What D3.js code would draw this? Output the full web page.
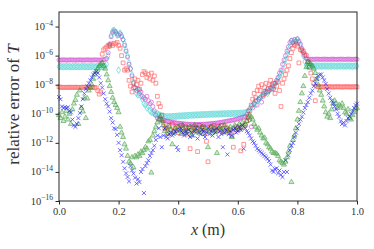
<!DOCTYPE html>
<html><head><meta charset="utf-8">
<script src="https://cdn.jsdelivr.net/npm/d3@7"></script>
<style>body{margin:0;background:#fff}svg{display:block}text{font-family:"Liberation Serif","DejaVu Serif",serif}</style>
</head><body>
<svg id="c" width="374" height="249"></svg>
<script>
// sample positions x (m), step 0.005 from 0 to 1
const xPositions = d3.range(201).map(i => +(i * 0.005).toFixed(3));

// log10 of relative error
const magentaExp = [
-6.30,-6.31,-6.30,-6.29,-6.30,-6.31,-6.30,-6.30,-6.29,-6.30,
-6.30,-6.31,-6.30,-6.30,-6.29,-6.30,-6.31,-6.30,-6.30,-6.29,
-6.30,-6.30,-6.31,-6.30,-6.29,-6.30,-6.30,-6.31,-6.30,-6.29,
-6.28,-6.25,-6.2,-5.8,-5.2,-4.7,-4.4,-4.3,-4.35,-4.5,
-4.6,-4.5,-4.7,-4.9,-5.3,-5.7,-6.1,-6.6,-6.9,-7.4,
-7.9,-8.2,-8.4,-8.3,-8.6,-8.5,-8.8,-8.9,-9.0,-8.8,
-9.1,-9.3,-9.2,-9.5,-9.8,-10.1,-10.3,-10.35,-10.38,-10.42,
-10.45,-10.47,-10.5,-10.52,-10.55,-10.57,-10.59,-10.6,-10.62,-10.64,
-10.65,-10.66,-10.67,-10.68,-10.7,-10.71,-10.72,-10.72,-10.73,-10.73,
-10.74,-10.74,-10.74,-10.74,-10.73,-10.73,-10.73,-10.72,-10.72,-10.71,
-10.7,-10.69,-10.68,-10.67,-10.66,-10.65,-10.64,-10.62,-10.61,-10.59,
-10.57,-10.55,-10.53,-10.51,-10.49,-10.47,-10.45,-10.43,-10.41,-10.38,
-10.35,-10.32,-10.29,-10.25,-10.22,-10.18,-10.05,-9.8,-10.4,-10.9,
-9.6,-9.3,-9.1,-9.4,-9.0,-8.9,-9.2,-8.8,-8.6,-8.5,
-8.3,-8.4,-8.2,-8.0,-8.3,-7.9,-7.7,-7.5,-7.2,-7.0,
-6.6,-6.3,-6.0,-5.7,-5.4,-5.1,-4.95,-5.1,-4.9,-5.0,
-4.85,-5.0,-5.2,-5.5,-5.8,-6.0,-6.2,-6.24,-6.25,-6.25,
-6.25,-6.26,-6.25,-6.24,-6.25,-6.25,-6.26,-6.25,-6.24,-6.25,
-6.25,-6.26,-6.25,-6.25,-6.24,-6.25,-6.26,-6.25,-6.25,-6.24,
-6.25,-6.25,-6.26,-6.25,-6.24,-6.25,-6.25,-6.26,-6.25,-6.24,
-6.25];

const cyanExp = [
-6.76,-6.75,-6.76,-6.77,-6.76,-6.75,-6.76,-6.76,-6.77,-6.76,
-6.76,-6.75,-6.76,-6.76,-6.77,-6.76,-6.75,-6.76,-6.76,-6.77,
-6.76,-6.76,-6.75,-6.76,-6.77,-6.76,-6.76,-6.75,-6.76,-6.76,
-6.74,-6.72,-6.6,-6.0,-5.3,-4.6,-4.3,-4.25,-4.4,-4.6,
-7.0,-4.45,-4.6,-4.9,-5.2,-5.6,-6.0,-6.5,-6.9,-7.3,
-7.8,-8.2,-8.6,-8.7,-8.4,-8.8,-9.0,-9.3,-9.4,-9.6,
-9.5,-9.8,-9.9,-9.9,-10.0,-10.0,-10.0,-10.05,-10.1,-10.15,
-10.17,-10.19,-10.2,-10.2,-10.2,-10.2,-10.19,-10.18,-10.18,-10.17,
-10.16,-10.15,-10.15,-10.14,-10.13,-10.13,-10.12,-10.11,-10.1,-10.1,
-10.09,-10.09,-10.08,-10.08,-10.07,-10.07,-10.06,-10.06,-10.05,-10.05,
-10.04,-10.04,-10.03,-10.03,-10.03,-10.02,-10.02,-10.02,-10.01,-10.01,
-10.0,-10.0,-10.0,-9.99,-9.99,-9.99,-9.98,-9.98,-9.98,-9.97,
-9.97,-9.97,-9.96,-9.96,-9.95,-9.93,-9.9,-9.8,-9.65,-9.5,
-9.4,-9.3,-9.35,-9.1,-9.0,-8.9,-8.8,-8.6,-8.5,-8.55,
-8.6,-8.4,-8.3,-8.2,-8.1,-8.0,-7.8,-7.6,-7.4,-7.2,
-7.0,-6.6,-6.3,-5.9,-5.6,-5.3,-5.0,-5.1,-4.95,-5.0,
-4.9,-5.1,-5.3,-5.6,-6.0,-6.4,-6.65,-6.72,-6.72,-6.72,
-6.72,-6.73,-6.72,-6.71,-6.72,-6.72,-6.73,-6.72,-6.71,-6.72,
-6.72,-6.73,-6.72,-6.72,-6.71,-6.72,-6.73,-6.72,-6.72,-6.71,
-6.72,-6.72,-6.73,-6.72,-6.71,-6.72,-6.72,-6.73,-6.72,-6.71,
-6.72];

const redExp = [
-8.15,-8.17,-8.18,-8.18,-8.19,-8.18,-8.18,-8.17,-8.18,-8.19,
-8.18,-8.17,-8.18,-8.19,-8.18,-8.18,-8.17,-8.18,-8.18,-8.19,
-8.18,-8.18,-8.17,-8.18,-8.2,-8.22,-8.4,-8.65,-8.5,-5.9,
-5.6,-5.5,-5.4,-5.3,-5.35,-5.2,-5.3,-5.15,-5.2,-5.1,
-5.3,-5.5,-6.0,-6.5,-7.0,-6.9,-7.0,-7.7,-8.1,-8.5,
-8.2,-7.6,-8.0,-7.7,-8.3,-7.9,-7.3,-7.1,-7.2,-7.5,
-7.3,-7.6,-7.2,-7.7,-7.4,-7.9,-8.8,-9.3,-9.5,-10.1,
-10.6,-11.0,-10.9,-11.3,-10.8,-11.1,-10.7,-11.2,-11.0,-10.9,
-11.3,-11.1,-10.8,-11.0,-11.2,-10.9,-11.4,-11.0,-12.4,-11.1,
-10.9,-11.2,-11.0,-12.6,-10.8,-11.1,-11.0,-10.9,-11.3,-11.9,
-13.3,-11.0,-10.9,-11.1,-10.8,-11.0,-11.2,-10.9,-11.1,-10.8,
-11.0,-11.2,-10.9,-11.0,-11.3,-11.1,-11.5,-12.3,-11.2,-10.9,
-11.0,-11.1,-12.55,-10.9,-12.1,-10.8,-10.5,-10.2,-9.8,-9.4,
-9.0,-8.6,-8.9,-8.4,-8.1,-8.4,-8.0,-8.7,-8.2,-7.9,
-8.5,-8.0,-7.7,-8.3,-7.9,-8.6,-8.1,-7.8,-8.4,-9.5,
-7.9,-7.6,-7.3,-7.0,-6.7,-6.2,-5.8,-5.5,-5.3,-5.2,
-5.35,-6.5,-5.6,-5.65,-5.7,-5.9,-6.0,-6.4,-6.8,-7.2,
-7.6,-7.9,-9.1,-8.1,-8.15,-8.15,-8.14,-8.15,-8.16,-8.15,
-8.15,-8.14,-8.15,-8.15,-8.16,-8.15,-8.15,-8.14,-8.15,-8.15,
-8.16,-8.15,-8.15,-8.14,-8.15,-8.15,-8.16,-8.15,-8.15,-8.14,
-8.15];

const greenExp = [
-10.1,-10.3,-9.9,-10.5,-10.2,-9.8,-10.4,-10.0,-10.7,-9.7,
-9.3,-9.05,-8.7,-10.7,-8.4,-9.6,-9.85,-8.9,-10.3,-8.95,
-8.4,-8.2,-8.0,-7.6,-7.3,-7.1,-6.9,-6.7,-6.6,-6.5,
-6.7,-6.9,-7.3,-7.7,-8.1,-8.5,-8.9,-9.2,-9.4,-9.6,
-9.9,-10.9,-11.3,-11.6,-12.1,-12.4,-12.9,-13.3,-13.4,-13.0,
-13.7,-12.9,-13.0,-12.8,-12.9,-12.6,-12.7,-12.5,-12.3,-12.4,
-11.9,-11.8,-14.05,-11.5,-11.2,-10.9,-10.6,-10.4,-10.2,-10.5,
-10.8,-11.2,-11.0,-11.4,-10.9,-11.1,-12.1,-11.3,-11.0,-11.2,
-10.9,-11.1,-11.4,-10.8,-11.1,-11.3,-11.0,-11.2,-10.9,-11.5,
-11.1,-10.8,-11.2,-11.0,-11.3,-11.1,-10.9,-11.4,-11.0,-11.2,
-12.3,-11.1,-10.9,-11.3,-11.0,-11.2,-12.7,-11.0,-10.9,-11.1,
-11.3,-10.8,-11.0,-11.2,-11.1,-10.9,-11.6,-11.0,-10.8,-11.1,
-10.9,-10.7,-11.0,-10.6,-10.8,-10.7,-10.5,-10.3,-10.1,-10.2,
-10.4,-10.7,-10.9,-11.1,-11.0,-11.3,-11.5,-11.7,-11.65,-12.0,
-12.1,-12.3,-12.4,-12.6,-12.7,-12.7,-12.75,-12.9,-13.2,-13.3,
-13.4,-13.5,-13.3,-13.0,-12.6,-12.2,-14.7,-11.8,-11.5,-11.0,
-10.4,-9.8,-9.2,-8.6,-8.1,-7.4,-6.8,-6.45,-6.5,-6.6,
-6.7,-6.9,-7.2,-7.6,-8.0,-8.4,-8.7,-9.1,-9.5,-9.9,
-10.2,-10.0,-10.3,-9.7,-9.3,-9.1,-9.3,-9.6,-9.4,-9.5,
-9.3,-9.6,-9.9,-10.0,-9.7,-10.3,-10.4,-10.1,-9.9,-9.7,
-9.6];

const blueExp = [
-8.85,-9.0,-9.5,-9.6,-9.55,-9.6,-9.55,-9.8,-9.9,-10.4,
-10.8,-10.9,-10.7,-10.3,-9.95,-9.5,-9.0,-8.6,-8.3,-8.1,
-7.9,-7.7,-7.5,-7.3,-7.2,-7.1,-7.2,-7.5,-7.9,-8.2,
-8.6,-9.0,-9.3,-9.5,-9.85,-10.3,-10.6,-11.0,-11.05,-11.45,
-12.0,-12.5,-12.85,-13.3,-13.75,-14.1,-14.35,-14.65,-13.6,-13.9,
-14.1,-14.4,-14.8,-14.5,-14.7,-14.0,-13.8,-15.45,-13.6,-13.4,
-13.2,-12.9,-12.7,-12.5,-12.2,-11.8,-11.5,-11.0,-11.6,-12.3,
-11.5,-11.0,-11.6,-11.7,-11.4,-11.3,-11.5,-11.4,-11.2,-12.3,
-12.5,-11.1,-11.0,-11.3,-11.5,-11.2,-11.4,-11.1,-11.6,-11.3,
-11.5,-11.2,-11.0,-11.7,-11.3,-11.4,-11.1,-11.2,-11.6,-11.3,
-11.0,-11.4,-11.2,-11.5,-11.1,-11.3,-11.0,-11.6,-11.2,-11.4,
-12.3,-11.3,-11.1,-12.8,-11.4,-11.2,-11.5,-11.1,-11.0,-11.3,
-11.2,-10.9,-11.1,-10.8,-12.4,-11.0,-11.2,-11.3,-11.5,-11.7,
-11.9,-12.0,-12.2,-12.4,-12.5,-12.6,-12.7,-12.8,-12.9,-13.0,
-13.1,-13.25,-13.5,-13.9,-14.0,-13.8,-13.75,-14.1,-13.9,-14.2,
-14.35,-14.0,-13.2,-14.0,-12.85,-12.5,-12.2,-12.0,-11.6,-11.3,
-11.0,-10.7,-10.4,-10.2,-9.9,-9.6,-9.4,-9.2,-8.9,-8.6,
-8.4,-8.1,-7.9,-7.6,-7.4,-7.3,-7.3,-7.5,-7.7,-7.95,
-8.3,-8.6,-8.9,-9.1,-9.3,-9.5,-9.7,-10.0,-10.2,-10.5,
-10.7,-10.6,-10.8,-10.5,-10.3,-10.2,-10.0,-9.8,-9.6,-9.4,
-9.3];

const xTickValues = [0, 0.2, 0.4, 0.6, 0.8, 1.0];
const yTickExponents = [-16, -14, -12, -10, -8, -6, -4];

const svg = d3.select("#c");
const pL = 59, pR = 357, pT = 12, pB = 201;

const x = d3.scaleLinear().domain([0, 1]).range([pL, pR]);
const y = d3.scaleLog().domain([1e-16, 1e-3]).range([pB, pT]);

const TXT = "#333";

const series = [
  {exps: magentaExp, color: "#bf00bf", sym: d3.symbolCircle, size: 13, filled: false, op: 0.6},
  {exps: cyanExp,    color: "#00bfbf", sym: d3.symbolDiamond, size: 13, filled: false, op: 0.6},
  {exps: redExp,     color: "#ff0000", sym: d3.symbolSquare, size: 14, filled: false, op: 0.55},
  {exps: greenExp,   color: "#008000", sym: d3.symbolTriangle, size: 11, filled: true, op: 0.6},
  {exps: blueExp,    color: "#0000ff", sym: d3.symbolX, size: 12, filled: false, op: 0.75}
];

const plot = svg.append("g");
series.forEach(s => {
  const pts = xPositions.map((xv, i) => ({x: xv, v: Math.pow(10, s.exps[i])}));
  const g = plot.append("g").attr("opacity", s.op);
  g.selectAll("path").data(pts).join("path")
    .attr("transform", d => `translate(${x(d.x)},${y(d.v)})`)
    .attr("d", d3.symbol().type(s.sym).size(s.size))
    .attr("fill", s.filled ? s.color : "none")
    .attr("fill-opacity", s.filled ? 0.3 : 0)
    .attr("stroke", s.color)
    .attr("stroke-width", 0.75);
});

// frame
svg.append("rect").attr("x", pL).attr("y", pT)
  .attr("width", pR - pL).attr("height", pB - pT)
  .attr("fill", "none").attr("stroke", "#262626").attr("stroke-width", 1);

// x axis
const xAxis = svg.append("g").attr("transform", `translate(0,${pB})`)
  .call(d3.axisBottom(x).tickValues(xTickValues).tickSize(3.5).tickPadding(3)
    .tickFormat(d3.format(".1f")));
xAxis.select(".domain").remove();
xAxis.selectAll(".tick line").attr("stroke", "#262626");
xAxis.selectAll(".tick text").attr("font-family", null).attr("font-size", 10.5).attr("fill", TXT);
xAxis.attr("font-family", null);

// y axis
const yAxis = svg.append("g").attr("transform", `translate(${pL},0)`)
  .call(d3.axisLeft(y).tickValues(yTickExponents.map(e => Math.pow(10, e))).tickSize(3.5).tickFormat(""));
yAxis.select(".domain").remove();
yAxis.selectAll(".tick line").attr("stroke", "#262626");
yTickExponents.forEach(e => {
  const t = svg.append("text").attr("x", pL - 6).attr("y", y(Math.pow(10, e)) + 3.5)
    .attr("text-anchor", "end").attr("font-size", 10.5).attr("fill", TXT);
  t.append("tspan").text("10");
  t.append("tspan").attr("dy", -4.5).attr("font-size", 7.5).text("\u2212" + Math.abs(e));
});

// axis labels
const xl = svg.append("text").attr("x", (pL + pR) / 2).attr("y", 235)
  .attr("text-anchor", "middle").attr("font-size", 16).attr("fill", TXT);
xl.append("tspan").attr("font-style", "italic").text("x");
xl.append("tspan").text(" (m)");

const yl = svg.append("text")
  .attr("transform", `translate(19,${(pT + pB) / 2 - 2}) rotate(-90)`)
  .attr("text-anchor", "middle").attr("font-size", 17).attr("fill", TXT);
yl.append("tspan").text("relative error of ");
yl.append("tspan").attr("font-style", "italic").text("T");
</script>
</body></html>
